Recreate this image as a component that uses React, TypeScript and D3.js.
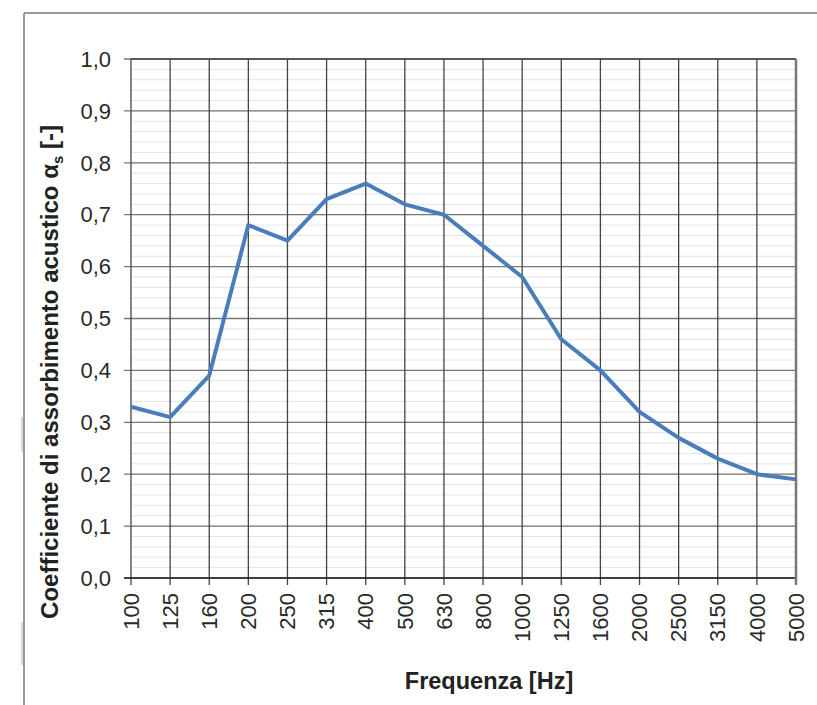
import React, { useEffect, useRef } from "react";
import * as d3 from "d3";

const frequencies = ["100", "125", "160", "200", "250", "315", "400", "500", "630", "800", "1000", "1250", "1600", "2000", "2500", "3150", "4000", "5000"];
const absorption = [0.33, 0.31, 0.39, 0.68, 0.65, 0.73, 0.76, 0.72, 0.70, 0.64, 0.58, 0.46, 0.40, 0.32, 0.27, 0.23, 0.20, 0.19];
const yTicks = [0, 0.1, 0.2, 0.3, 0.4, 0.5, 0.6, 0.7, 0.8, 0.9, 1.0];
const yMinor = d3.range(0, 1.0001, 0.02);

const W = 817, H = 705;
const left = 131, right = 796, top = 59, bottom = 578;

export default function App() {
  const ref = useRef<SVGSVGElement>(null);

  useEffect(() => {
    const svg = d3.select(ref.current);
    svg.selectAll("*").remove();

    const x = d3.scalePoint().domain(frequencies).range([left, right]);
    const y = d3.scaleLinear().domain([0, 1]).range([bottom, top]);

    // frame
    svg.append("line").attr("x1", 24).attr("x2", W).attr("y1", 13).attr("y2", 13).attr("stroke", "#777").attr("stroke-width", 1.5);
    svg.append("line").attr("x1", 24).attr("x2", 24).attr("y1", 13).attr("y2", H).attr("stroke", "#777").attr("stroke-width", 1.5);
    svg.append("line").attr("x1", 22).attr("x2", 22).attr("y1", 417).attr("y2", 452).attr("stroke", "#ccc").attr("stroke-width", 1.5);
    svg.append("line").attr("x1", 22).attr("x2", 22).attr("y1", 622).attr("y2", 665).attr("stroke", "#ccc").attr("stroke-width", 1.5);

    // minor gridlines
    svg.append("g").selectAll("line").data(yMinor).enter().append("line")
      .attr("x1", left).attr("x2", right)
      .attr("y1", d => y(d)).attr("y2", d => y(d))
      .attr("stroke", "#e4e4e4").attr("stroke-width", 1);

    // major horizontal
    svg.append("g").selectAll("line").data(yTicks).enter().append("line")
      .attr("x1", left - 7).attr("x2", right)
      .attr("y1", d => y(d)).attr("y2", d => y(d))
      .attr("stroke", "#777").attr("stroke-width", 1.3);

    // vertical gridlines
    svg.append("g").selectAll("line").data(frequencies).enter().append("line")
      .attr("x1", d => x(d)!).attr("x2", d => x(d)!)
      .attr("y1", top).attr("y2", bottom + 7)
      .attr("stroke", "#444").attr("stroke-width", 1.3);

    // borders
    svg.append("line").attr("x1", left).attr("x2", right).attr("y1", top).attr("y2", top).attr("stroke", "#444").attr("stroke-width", 1.5);
    svg.append("line").attr("x1", left - 7).attr("x2", right).attr("y1", bottom).attr("y2", bottom).attr("stroke", "#222").attr("stroke-width", 1.5);
    svg.append("line").attr("x1", right).attr("x2", right).attr("y1", top).attr("y2", bottom + 7).attr("stroke", "#777").attr("stroke-width", 2.5);

    // y labels
    svg.append("g").selectAll("text").data(yTicks).enter().append("text")
      .attr("x", 111).attr("y", d => y(d)).attr("dy", "0.35em")
      .attr("text-anchor", "end").attr("font-size", 22).attr("fill", "#2a2a2a")
      .text(d => d.toFixed(1).replace(".", ","));

    // x labels
    svg.append("g").selectAll("text").data(frequencies).enter().append("text")
      .attr("transform", d => `translate(${x(d)},${593}) rotate(-90)`)
      .attr("dy", "0.35em").attr("text-anchor", "end")
      .attr("font-size", 22).attr("fill", "#2a2a2a")
      .text(d => d);

    // line
    const line = d3.line<number>().x((_, i) => x(frequencies[i])!).y(d => y(d));
    svg.append("path").datum(absorption).attr("d", line)
      .attr("fill", "none").attr("stroke", "#4a7ebb").attr("stroke-width", 4)
      .attr("stroke-linejoin", "round");

    // titles
    svg.append("text").attr("x", 489).attr("y", 689).attr("text-anchor", "middle")
      .attr("font-size", 23.5).attr("font-weight", "bold").attr("fill", "#222")
      .text("Frequenza [Hz]");

    const yt = svg.append("text").attr("transform", "translate(58,372) rotate(-90)")
      .attr("text-anchor", "middle").attr("font-size", 24).attr("font-weight", "bold").attr("fill", "#222");
    yt.append("tspan").text("Coefficiente di assorbimento acustico α");
    yt.append("tspan").attr("font-size", 15).attr("dy", 5).text("s");
    yt.append("tspan").attr("dy", -5).text(" [-]");
  }, []);

  return (
    <svg ref={ref} width={W} height={H} style={{ position: "absolute", left: 0, top: 0, fontFamily: "'Liberation Sans', Arial, sans-serif" }} />
  );
}
